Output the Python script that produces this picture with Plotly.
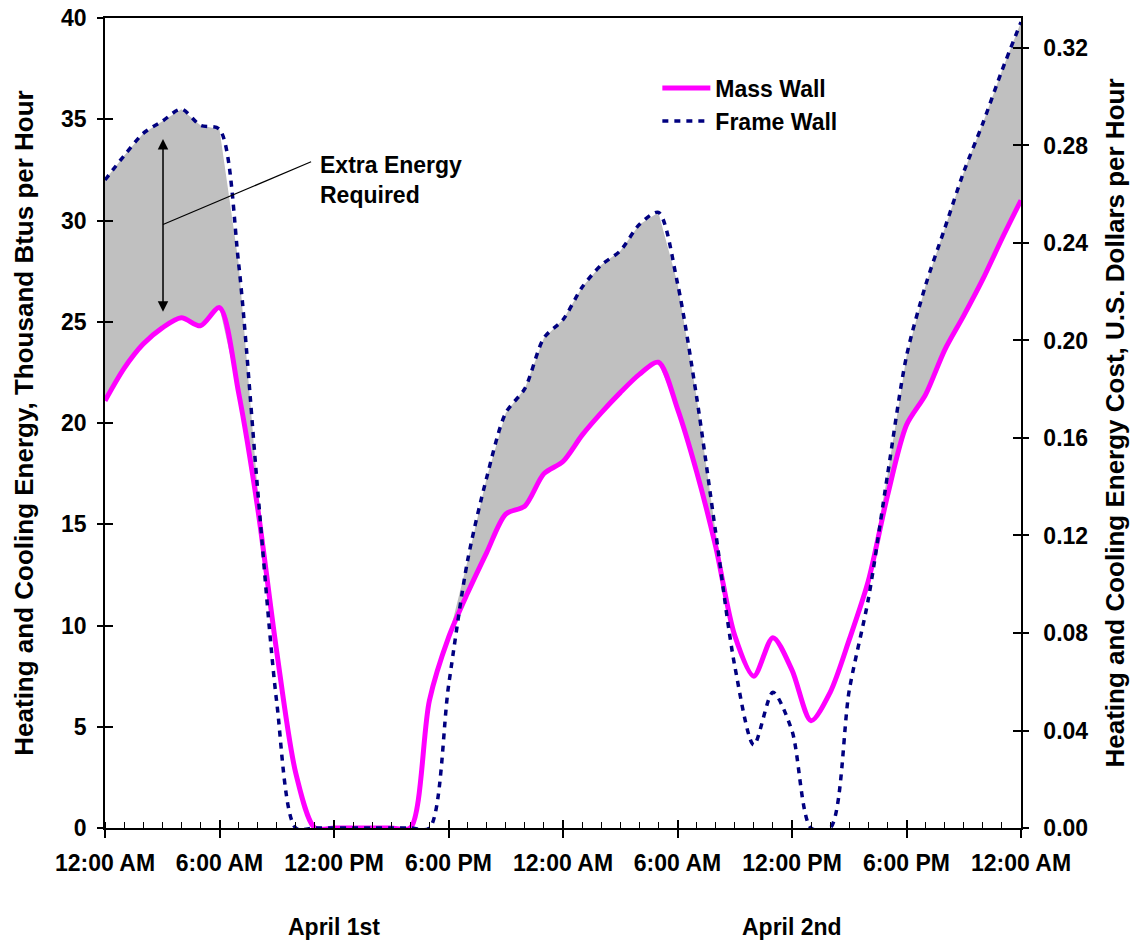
import numpy as np
import plotly.graph_objects as go

# ---- data ----
hours = list(range(49))
mass_wall = [21.1, 22.7, 23.9, 24.7, 25.2, 24.8, 25.7, 21.5, 15.8, 8.7,
             2.7, 0.0, 0.0, 0.0, 0.0, 0.0, 0.0, 6.3, 9.4, 11.6,
             13.6, 15.5, 15.9, 17.5, 18.1, 19.4, 20.5, 21.5, 22.4, 23.0,
             20.7, 17.6, 13.9, 9.5, 7.5, 9.4, 7.8, 5.3, 6.7, 9.3,
             12.2, 16.4, 19.9, 21.4, 23.6, 25.3, 27.1, 29.1, 31.0]
frame_wall = [32.0, 33.2, 34.3, 34.9, 35.5, 34.7, 34.5, 27.9, 16.7, 6.2,
              0.0, 0.0, 0.0, 0.0, 0.0, 0.0, 0.0, 0.0, 7.0, 13.2,
              17.3, 20.5, 21.7, 24.2, 25.1, 26.7, 27.8, 28.5, 29.8, 30.4,
              26.9, 21.3, 14.6, 8.0, 4.1, 6.7, 4.8, 0.0, 0.0, 6.8,
              11.3, 17.4, 23.3, 26.8, 29.6, 32.4, 34.8, 37.4, 39.8]
x_tick_vals = [0, 6, 12, 18, 24, 30, 36, 42, 48]
x_tick_text = ["12:00 AM", "6:00 AM", "12:00 PM", "6:00 PM", "12:00 AM",
               "6:00 AM", "12:00 PM", "6:00 PM", "12:00 AM"]
y_left_ticks = [0, 5, 10, 15, 20, 25, 30, 35, 40]
y_right_ticks = [0.00, 0.04, 0.08, 0.12, 0.16, 0.20, 0.24, 0.28, 0.32]
day_labels = ["April 1st", "April 2nd"]
day_centers = [12, 36]
y_right_max = 0.3323

FONT = "Liberation Sans, Arial, sans-serif"
H_SIZE = 23
V_SIZE = 26

mass = np.array(mass_wall)
frame = np.array(frame_wall)
upper = np.maximum(frame, mass)
scale = y_right_max / 40.0

fig = go.Figure()

# gray area between the two curves where the frame wall needs more energy
fig.add_trace(go.Scatter(x=hours, y=mass, mode="lines", line=dict(width=0),
                         showlegend=False, hoverinfo="skip"))
fig.add_trace(go.Scatter(x=hours, y=upper, mode="lines", line=dict(width=0),
                         fill="tonexty", fillcolor="#C0C0C0",
                         showlegend=False, hoverinfo="skip"))

fig.add_trace(go.Scatter(x=hours, y=mass_wall, mode="lines", name="Mass Wall",
                         legendgroup="m",
                         line=dict(color="#FF00FF", width=5, shape="spline", smoothing=0.8)))
fig.add_trace(go.Scatter(x=hours, y=frame_wall, mode="lines", name="Frame Wall",
                         legendgroup="f",
                         line=dict(color="#000080", width=3.5, dash="6px,6px",
                                   shape="spline", smoothing=0.8)))

# invisible traces so that the overlay axes render
fig.add_trace(go.Scatter(x=hours, y=(mass * scale).tolist(), yaxis="y2",
                         mode="lines", line=dict(width=0), showlegend=False, hoverinfo="skip"))
fig.add_trace(go.Scatter(x=hours, y=mass_wall, yaxis="y3", mode="lines",
                         line=dict(width=0), showlegend=False, hoverinfo="skip"))
fig.add_trace(go.Scatter(x=hours, y=(mass * scale).tolist(), yaxis="y4",
                         mode="lines", line=dict(width=0), showlegend=False, hoverinfo="skip"))
fig.add_trace(go.Scatter(x=hours, y=mass_wall, xaxis="x2", mode="lines",
                         line=dict(width=0), showlegend=False, hoverinfo="skip"))

tickfont_h = dict(family=FONT, size=H_SIZE, color="black", weight="bold")

fig.update_layout(
    width=1138, height=942,
    margin=dict(l=105, r=117, t=18, b=114, autoexpand=False),
    paper_bgcolor="white", plot_bgcolor="white",
    font=dict(family=FONT, color="black"),
    xaxis=dict(range=[0, 48], tickvals=x_tick_vals, ticktext=x_tick_text,
               ticks="outside", ticklen=8, tickwidth=1.5, tickcolor="black",
               minor=dict(dtick=1, ticks="inside", ticklen=6, tickwidth=1.2,
                          tickcolor="black", showgrid=False),
               showline=True, linecolor="black", linewidth=1.5, mirror=True,
               showgrid=False, zeroline=False, tickfont=tickfont_h,
               ticklabelstandoff=6),
    xaxis2=dict(range=[0, 48], overlaying="x", anchor="y", tickvals=x_tick_vals,
                ticks="inside", ticklen=8, tickwidth=1.5, tickcolor="black",
                showticklabels=False, showline=False, showgrid=False, zeroline=False),
    yaxis=dict(range=[0, 40], tickvals=y_left_ticks, ticks="outside", ticklen=6,
               tickwidth=1.5, tickcolor="black", showline=True, linecolor="black",
               linewidth=1.5, showgrid=False, zeroline=False, tickfont=tickfont_h,
               ticklabelstandoff=6,
               title=dict(text="Heating and Cooling Energy, Thousand Btus per Hour",
                          font=dict(family=FONT, size=V_SIZE, color="black", weight="bold"),
                          standoff=20)),
    yaxis3=dict(range=[0, 40], overlaying="y", side="left", anchor="x",
                tickvals=y_left_ticks, ticks="inside", ticklen=8, tickwidth=1.5,
                tickcolor="black", showticklabels=False, showline=False,
                showgrid=False, zeroline=False),
    yaxis2=dict(range=[0, y_right_max], overlaying="y", side="right", anchor="x",
                tickvals=y_right_ticks, tickformat=".2f", ticks="outside", ticklen=6,
                tickwidth=1.5, tickcolor="black", showline=True, linecolor="black",
                linewidth=1.5, showgrid=False, zeroline=False, tickfont=tickfont_h,
                ticklabelstandoff=10,
                title=dict(text="Heating and Cooling Energy Cost, U.S. Dollars per Hour",
                           font=dict(family=FONT, size=V_SIZE, color="black", weight="bold"),
                           standoff=18)),
    yaxis4=dict(range=[0, y_right_max], overlaying="y", side="right", anchor="x",
                tickvals=y_right_ticks, ticks="inside", ticklen=8, tickwidth=1.5,
                tickcolor="black", showticklabels=False, showline=False,
                showgrid=False, zeroline=False),
    legend=dict(x=0.603, y=0.94, xanchor="left", yanchor="top", traceorder="normal",
                tracegroupgap=5,
                bgcolor="rgba(0,0,0,0)", borderwidth=0, itemwidth=48,
                font=dict(family=FONT, size=H_SIZE, color="black", weight="bold")),
    showlegend=True,
)

# day labels under the axis
for lbl, c in zip(day_labels, day_centers):
    fig.add_annotation(x=c, y=-0.122, xref="x", yref="paper", text=lbl,
                       showarrow=False, xanchor="center", yanchor="middle",
                       font=dict(family=FONT, size=H_SIZE, color="black", weight="bold"))

# "Extra Energy Required" callout
fig.add_annotation(x=11.16, y=32.0, xref="x", yref="y", text="Extra Energy<br>Required",
                   showarrow=False, xanchor="left", yanchor="middle", align="left",
                   font=dict(family=FONT, size=H_SIZE, color="black", weight="bold"))
fig.add_shape(type="line", xref="x", yref="y", x0=3.04, y0=29.8, x1=10.8, y1=32.9,
              line=dict(color="black", width=1.2))
# double-headed vertical arrow
fig.add_annotation(x=3.04, y=25.5, ax=3.04, ay=34.1, xref="x", yref="y",
                   axref="x", ayref="y", text="", showarrow=True,
                   arrowhead=2, startarrowhead=2, arrowside="end+start",
                   arrowsize=1.4, arrowwidth=1.5, arrowcolor="black")

fig.write_html("out.html", config={"displayModeBar": False},
               post_script="document.body.style.margin='0px';document.body.style.padding='0px';")
